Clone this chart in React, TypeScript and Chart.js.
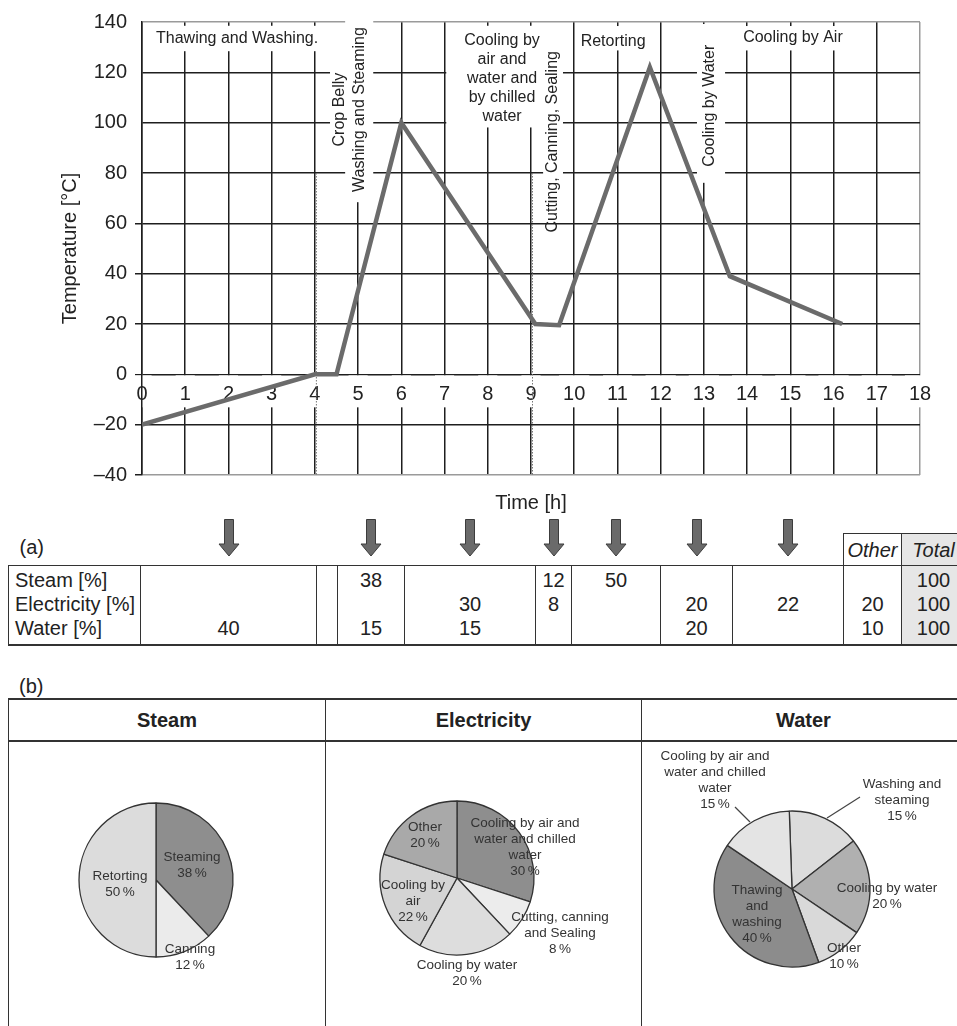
import React, { useEffect, useRef } from 'react';
import { Chart, registerables } from 'chart.js';

Chart.register(...registerables);

const FONT = '"Liberation Sans", Arial, Helvetica, sans-serif';
const NARROW = '"Liberation Sans Narrow", "Arial Narrow", "Liberation Sans", sans-serif';

// ---------- (a) temperature profile ----------
const timeH = [0, 4, 4.5, 6, 9.1, 9.65, 11.75, 13.6, 16.2];
const tempC = [-20, 0, 0, 100, 20, 19.5, 122, 39, 20];
const xMin = 0;
const xMax = 18;
const yMin = -40;
const yMax = 140;

const phaseNames = [
  ['Thawing and Washing.'],
  ['Crop Belly', 'Washing and Steaming'],
  ['Cooling by', 'air and', 'water and', 'by chilled', 'water'],
  ['Cutting, Canning, Sealing'],
  ['Retorting'],
  ['Cooling by Water'],
  ['Cooling by Air'],
];

// layout of the phase labels (data coords) and the white boxes behind them
const phaseLayout = [
  { t: 2.2, v: 133.4, rot: false, lh: 19, boxes: [[0.05, 4.07, 128.4, 138.5]] },
  { t: 4.81, v: 105.2, rot: true, lh: 20, boxes: [[4.35, 4.74, 90.4, 120.7], [4.7, 5.35, 68.4, 140.6]] },
  { t: 8.33, v: 117.6, rot: false, lh: 19, boxes: [[7.04, 9.33, 98.1, 138.5]] },
  { t: 9.51, v: 92.4, rot: true, lh: 19, boxes: [[9.28, 9.74, 62.6, 139.2]] },
  { t: 10.9, v: 132.3, rot: false, lh: 19, boxes: [[10.04, 11.8, 128.7, 138.4]] },
  { t: 13.14, v: 106.7, rot: true, lh: 19, boxes: [[12.84, 13.49, 76.1, 139.2]] },
  { t: 15.06, v: 133.8, rot: false, lh: 19, boxes: [[13.95, 16.22, 128.7, 138.4]] },
];
const dottedAt = [4, 9];

// ---------- (a) table ----------
const rowLabels = ['Steam [%]', 'Electricity [%]', 'Water [%]'];
const steamShare = ['', '', '38', '', '12', '50', '', '', '', '100'];
const elecShare = ['', '', '', '30', '8', '', '20', '22', '20', '100'];
const waterShare = ['40', '', '15', '15', '', '', '20', '', '10', '100'];
const headerOther = 'Other';
const headerTotal = 'Total';
const arrowCols = [1, 3, 4, 5, 6, 7, 8];
const colEdges = [8, 140, 316, 337, 404, 535, 571, 660, 732, 843, 901, 965];

// ---------- (b) pies ----------
const resourceNames = ['Steam', 'Electricity', 'Water'];

const steamParts = ['Steaming', 'Canning', 'Retorting'];
const steamShares = [38, 12, 50];
const elecParts = ['Cooling by air and water and chilled water', 'Cutting, canning and Sealing', 'Cooling by water', 'Cooling by air', 'Other'];
const elecShares = [30, 8, 20, 22, 20];
const waterParts = ['Washing and steaming', 'Cooling by water', 'Other', 'Thawing and washing', 'Cooling by air and water and chilled water'];
const waterShares = [15, 20, 10, 40, 15];

const steamStyle = {
  cx: 156, cy: 880, r: 77, rotation: 0,
  colors: ['#8e8e8e', '#ebebeb', '#dcdcdc'],
  lines: [['Steaming'], ['Canning'], ['Retorting']],
  pos: [[36, -15.5], [34, 76.5], [-36, 3.5]],
  leaders: [] as number[][],
};
const elecStyle = {
  cx: 457, cy: 878, r: 77, rotation: 0,
  colors: ['#8e8e8e', '#ececec', '#dddddd', '#d4d4d4', '#a9a9a9'],
  lines: [['Cooling by air and', 'water and chilled', 'water'], ['Cutting, canning', 'and Sealing'], ['Cooling by water'], ['Cooling by', 'air'], ['Other']],
  pos: [[68, -31.5], [103, 54.5], [10, 94.5], [-44, 23], [-32, -43]],
  leaders: [] as number[][],
};
const waterStyle = {
  cx: 792, cy: 889, r: 78, rotation: -2,
  colors: ['#dcdcdc', '#b0b0b0', '#d9d9d9', '#8c8c8c', '#e4e4e4'],
  lines: [['Washing and', 'steaming'], ['Cooling by water'], ['Other'], ['Thawing', 'and', 'washing'], ['Cooling by air and', 'water and chilled', 'water']],
  pos: [[110, -89], [95, 7], [52, 67], [-35, 25], [-77, -109]],
  leaders: [[-57, -82, -42, -67], [68, -92, 35, -71]],
};

const phasePlugin = {
  id: 'phaseLabels',
  beforeDatasetsDraw(chart: any) {
    const { ctx } = chart;
    const x = chart.scales.x;
    const y = chart.scales.y;
    ctx.save();
    ctx.fillStyle = '#ffffff';
    phaseLayout.forEach((p) => {
      p.boxes.forEach(([t0, t1, v0, v1]) => {
        const x0 = x.getPixelForValue(t0);
        const x1 = x.getPixelForValue(t1);
        const y0 = y.getPixelForValue(v1);
        const y1 = y.getPixelForValue(v0);
        ctx.fillRect(x0, y0, x1 - x0, y1 - y0);
      });
    });
    // dotted markers
    ctx.strokeStyle = '#777';
    ctx.lineWidth = 1;
    ctx.setLineDash([1.5, 1.5]);
    dottedAt.forEach((t) => {
      const px = x.getPixelForValue(t) + 1.5;
      ctx.beginPath();
      ctx.moveTo(px, y.getPixelForValue(80));
      ctx.lineTo(px, y.getPixelForValue(-40));
      ctx.stroke();
    });
    ctx.setLineDash([]);
    ctx.fillStyle = '#222';
    ctx.font = `16px ${FONT}`;
    ctx.textAlign = 'center';
    ctx.textBaseline = 'middle';
    phaseLayout.forEach((p, i) => {
      const lines = phaseNames[i];
      const px = x.getPixelForValue(p.t);
      const py = y.getPixelForValue(p.v);
      ctx.save();
      ctx.translate(px, py);
      if (p.rot) ctx.rotate(-Math.PI / 2);
      lines.forEach((s, k) => ctx.fillText(s, 0, (k - (lines.length - 1) / 2) * p.lh));
      ctx.restore();
    });
    ctx.restore();
  },
};

function LineChart() {
  const ref = useRef<HTMLCanvasElement>(null);
  useEffect(() => {
    const chart = new Chart(ref.current as HTMLCanvasElement, {
      type: 'line',
      data: {
        datasets: [
          {
            data: timeH.map((t, i) => ({ x: t, y: tempC[i] })),
            borderColor: '#6b6b6b',
            borderWidth: 4.5,
            pointRadius: 0,
            tension: 0,
            fill: false,
            borderJoinStyle: 'miter',
          } as any,
        ],
      },
      options: {
        animation: false,
        responsive: false,
        maintainAspectRatio: false,
        layout: { padding: { left: 0, top: 22, right: 37, bottom: 8 } },
        plugins: { legend: { display: false }, tooltip: { enabled: false } },
        scales: {
          x: {
            type: 'linear',
            min: xMin,
            max: xMax,
            position: { y: 0 } as any,
            ticks: {
              stepSize: 1,
              autoSkip: false,
              maxRotation: 0,
              color: '#222',
              font: { family: FONT, size: 20 },
              padding: 8,
              showLabelBackdrop: true,
              backdropColor: '#ffffff',
              backdropPadding: { top: 7, bottom: 1, left: 4, right: 4 },
            } as any,
            grid: {
              color: (c: any) => (c.tick && c.tick.value === xMax ? '#9a9a9a' : '#1e1e1e'),
              lineWidth: 1.5,
              drawTicks: false,
            },
            border: { display: false },
          },
          y: {
            type: 'linear',
            min: yMin,
            max: yMax,
            ticks: {
              stepSize: 20,
              color: '#222',
              font: { family: FONT, size: 20 },
              padding: 8,
              callback: (v: any) => (v < 0 ? '\u2013' + Math.abs(v) : String(v)),
            },
            grid: {
              color: (c: any) => (c.tick && (c.tick.value === yMin || c.tick.value === yMax) ? '#9a9a9a' : '#1e1e1e'),
              lineWidth: 1.5,
              tickLength: 7,
              tickColor: (c: any) => (c.tick && c.tick.value <= 60 ? '#1e1e1e' : 'rgba(0,0,0,0)'),
            },
            border: { display: true, color: '#1e1e1e', width: 1.5 },
            title: {
              display: true,
              text: 'Temperature [°C]',
              color: '#222',
              font: { family: FONT, size: 20 },
              padding: { top: 58, bottom: 0 },
            },
            afterFit: (s: any) => {
              s.width = 142;
            },
          },
        },
      },
      plugins: [phasePlugin],
    });
    return () => chart.destroy();
  }, []);
  return (
    <canvas
      ref={ref}
      width={957}
      height={495}
      style={{ position: 'absolute', left: 0, top: 0, width: 957, height: 495 }}
    />
  );
}

function Arrow() {
  return (
    <svg width={24} height={38} style={{ position: 'absolute', left: '50%', marginLeft: -12, top: -15 }}>
      <polygon points="7.5,0.5 16.5,0.5 16.5,25 22,25 12,37 2,25 7.5,25" fill="#6a6a6a" stroke="#3c3c3c" strokeWidth={1} />
    </svg>
  );
}

const B = '1.5px solid #333';

function TableA() {
  const widths = colEdges.slice(1).map((e, i) => e - colEdges[i]);
  const rows = [steamShare, elecShare, waterShare];
  const cellFont: React.CSSProperties = { fontFamily: NARROW, fontSize: 20, color: '#222', lineHeight: '24px' };
  return (
    <table
      style={{
        position: 'absolute',
        left: colEdges[0],
        top: 533,
        borderCollapse: 'collapse',
        tableLayout: 'fixed',
        width: colEdges[colEdges.length - 1] - colEdges[0],
      }}
    >
      <colgroup>
        {widths.map((w, i) => (
          <col key={i} style={{ width: w }} />
        ))}
      </colgroup>
      <tbody>
        <tr style={{ height: 32 }}>
          <td style={{ ...cellFont, padding: '0 0 4px 11px', verticalAlign: 'middle' }}>(a)</td>
          {widths.slice(1).map((_, i) => {
            const c = i + 1;
            if (c === 9 || c === 10) {
              return (
                <td
                  key={c}
                  style={{
                    ...cellFont,
                    fontStyle: 'italic',
                    border: B,
                    background: c === 10 ? '#e6e6e6' : '#fff',
                    textAlign: 'center',
                    padding: 0,
                  }}
                >
                  {c === 9 ? headerOther : headerTotal}
                </td>
              );
            }
            return (
              <td key={c} style={{ padding: 0, position: 'relative' }}>
                {arrowCols.includes(c) ? <Arrow /> : null}
              </td>
            );
          })}
        </tr>
        <tr style={{ height: 79 }}>
          <td style={{ border: B, borderBottom: '2px solid #333', padding: '2px 0 0 6px', verticalAlign: 'top', ...cellFont }}>
            {rowLabels.map((l) => (
              <div key={l}>{l}</div>
            ))}
          </td>
          {widths.slice(1).map((_, i) => (
            <td
              key={i}
              style={{
                border: B,
                borderBottom: '2px solid #333',
                padding: '2px 0 0 0',
                verticalAlign: 'top',
                textAlign: 'center',
                background: i === 9 ? '#e6e6e6' : '#fff',
                ...cellFont,
              }}
            >
              {rows.map((r, k) => (
                <div key={k} style={{ height: 24 }}>
                  {r[i]}
                </div>
              ))}
            </td>
          ))}
        </tr>
      </tbody>
    </table>
  );
}

type PieStyle = typeof steamStyle;

function Pie({ parts, shares, st }: { parts: string[]; shares: number[]; st: PieStyle }) {
  const ref = useRef<HTMLCanvasElement>(null);
  const size = 2 * st.r + 14;
  useEffect(() => {
    const chart = new Chart(ref.current as HTMLCanvasElement, {
      type: 'pie',
      data: {
        labels: parts,
        datasets: [
          {
            data: shares,
            backgroundColor: st.colors,
            borderColor: '#333',
            borderWidth: 1.3,
          },
        ],
      },
      options: {
        animation: false,
        responsive: false,
        maintainAspectRatio: false,
        radius: st.r,
        rotation: st.rotation,
        layout: { padding: 0 },
        plugins: { legend: { display: false }, tooltip: { enabled: false } },
      } as any,
    });
    return () => chart.destroy();
  }, []);
  return (
    <>
      <canvas
        ref={ref}
        width={size}
        height={size}
        style={{ position: 'absolute', left: st.cx - size / 2, top: st.cy - size / 2, width: size, height: size }}
      />
      {st.leaders.length > 0 && (
        <svg style={{ position: 'absolute', left: 0, top: 0, overflow: 'visible' }} width={1} height={1}>
          {st.leaders.map(([x1, y1, x2, y2], i) => (
            <line key={i} x1={st.cx + x1} y1={st.cy + y1} x2={st.cx + x2} y2={st.cy + y2} stroke="#444" strokeWidth={1.2} />
          ))}
        </svg>
      )}
      {shares.map((s, i) => (
        <div
          key={i}
          style={{
            position: 'absolute',
            left: st.cx + st.pos[i][0],
            top: st.cy + st.pos[i][1],
            transform: 'translate(-50%, -50%)',
            fontFamily: FONT,
            fontSize: 13.5,
            lineHeight: '16px',
            color: '#333',
            textAlign: 'center',
            whiteSpace: 'nowrap',
          }}
        >
          {st.lines[i].map((l, k) => (
            <div key={k}>{l}</div>
          ))}
          <div>{`${s}\u2009%`}</div>
        </div>
      ))}
    </>
  );
}

function TableB() {
  const edges = [8, 325, 641, 965];
  return (
    <div style={{ position: 'absolute', left: 0, top: 0 }}>
      {resourceNames.map((n, i) => (
        <div
          key={n}
          style={{
            position: 'absolute',
            left: edges[i],
            top: 698,
            width: edges[i + 1] - edges[i],
            height: 44,
            boxSizing: 'border-box',
            borderTop: '2px solid #333',
            borderBottom: '2px solid #333',
            borderLeft: B,
            fontFamily: FONT,
            fontWeight: 'bold',
            fontSize: 20,
            color: '#222',
            display: 'flex',
            alignItems: 'center',
            justifyContent: 'center',
          }}
        >
          {n}
        </div>
      ))}
      {edges.slice(0, 3).map((e, i) => (
        <div key={i} style={{ position: 'absolute', left: e, top: 742, width: 0, height: 300, borderLeft: B }} />
      ))}
    </div>
  );
}

export default function App() {
  return (
    <div
      style={{
        position: 'absolute',
        left: 0,
        top: 0,
        width: 957,
        height: 1026,
        overflow: 'hidden',
        background: '#fff',
        fontFamily: FONT,
      }}
    >
      <LineChart />
      <div
        style={{
          position: 'absolute',
          left: 531,
          top: 502,
          transform: 'translate(-50%, -50%)',
          fontFamily: FONT,
          fontSize: 20,
          color: '#222',
          whiteSpace: 'nowrap',
        }}
      >
        Time [h]
      </div>
      <TableA />
      <div
        style={{
          position: 'absolute',
          left: 19,
          top: 686,
          transform: 'translateY(-50%)',
          fontFamily: NARROW,
          fontSize: 20,
          color: '#222',
        }}
      >
        (b)
      </div>
      <TableB />
      <Pie parts={steamParts} shares={steamShares} st={steamStyle} />
      <Pie parts={elecParts} shares={elecShares} st={elecStyle} />
      <Pie parts={waterParts} shares={waterShares} st={waterStyle} />
    </div>
  );
}
